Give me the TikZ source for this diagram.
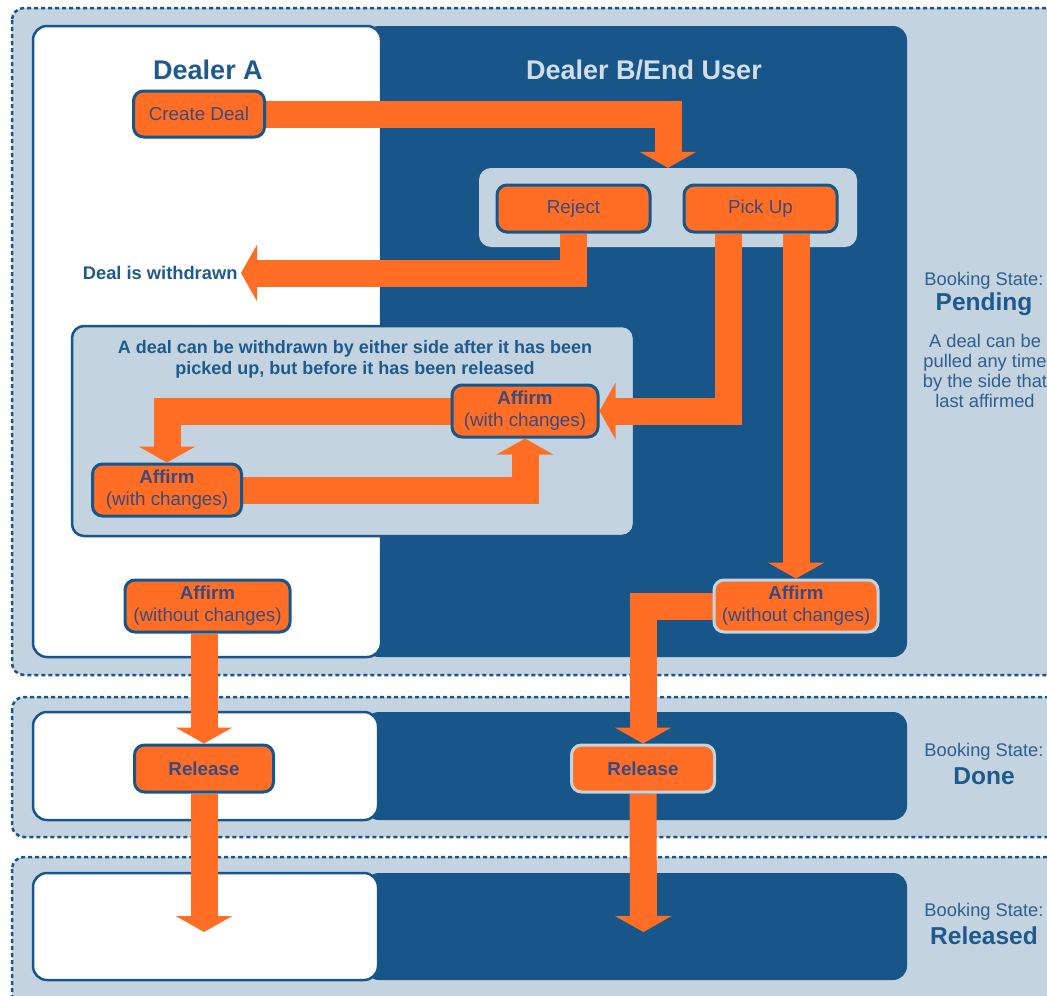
\documentclass[tikz,border=0pt]{standalone}
\usepackage{fontspec}
\setmainfont{Liberation Sans}
\usetikzlibrary{arrows.meta,calc}
\definecolor{panelc}{HTML}{C3D3E0}
\definecolor{darkb}{HTML}{18568A}
\definecolor{orng}{HTML}{FF6E24}
\definecolor{otext}{HTML}{3A4A7E}
\definecolor{ttext}{HTML}{1F5A8E}
\definecolor{stext}{HTML}{2E5F8F}
\definecolor{ltitle}{HTML}{D3DDE8}
\pgfdeclarelayer{background}
\pgfdeclarelayer{middle}
\pgfsetlayers{background,middle,main}
\tikzset{
  panel/.style={fill=panelc, draw=darkb, line width=2.5pt, dash pattern=on 4pt off 3pt, rounded corners=12pt},
  whitelane/.style={fill=white, draw=darkb, line width=2.5pt, rounded corners=14pt},
  darklane/.style={fill=darkb, rounded corners=14pt},
  greybox/.style={fill=panelc, draw=none, rounded corners=12pt, inner sep=0pt},
  descbox/.style={fill=panelc, draw=darkb, line width=2.5pt, rounded corners=12pt, inner sep=0pt},
  obox/.style={fill=orng, draw=darkb, line width=3pt, rounded corners=10pt, inner sep=0pt,
     text=otext, align=center, font=\fontsize{18.8}{22}\selectfont},
  oboxl/.style={obox, draw=panelc},
  flow/.style={draw=orng, line width=27pt, line join=miter, -{Triangle[width=56pt,length=16pt]}},
  title/.style={font=\fontsize{27}{30}\selectfont\bfseries},
  bstate/.style={text=stext, font=\fontsize{18.3}{20}\selectfont, align=center},
  bname/.style={text=ttext, font=\fontsize{24.5}{26}\selectfont\bfseries},
}
\begin{document}
\begin{tikzpicture}[x=1pt,y=-1pt]
\useasboundingbox (0,0) rectangle (1047,996);
\begin{pgfonlayer}{background}
  % panels
  \draw[panel] (12,8) rectangle (1080,675);
  \draw[panel] (12,697) rectangle (1080,837);
  \draw[panel] (12,857) rectangle (1080,1010);
  % lanes panel 1
  \fill[darklane] (365,26) rectangle (907,657);
  \draw[whitelane] (33,26) rectangle (381,657);
  % lanes panel 2
  \fill[darklane] (365,712) rectangle (907,820);
  \draw[whitelane] (33,712) rectangle (378,820);
  % lanes panel 3
  \fill[darklane] (365,873) rectangle (907,980);
  \draw[whitelane] (33,873) rectangle (378,980);
  % grey group boxes
  \node[greybox, minimum width=378pt, minimum height=79pt] (group) at (668,207.5) {};
  \node[descbox, minimum width=562pt, minimum height=210pt] (descb) at (353,431) {};
\end{pgfonlayer}

% titles
\node[title, text=ttext] (dA) at (208,70) {Dealer A};
\node[title, text=ltitle] (dB) at (644,70) {Dealer B/End User};

% description
\node[text=ttext, align=center, font=\fontsize{18}{21}\selectfont\bfseries] (desc) at (355,359)
  {A deal can be withdrawn by either side after it has been\\picked up, but before it has been released};

\node[text=ttext, anchor=east, font=\fontsize{18.3}{20}\selectfont\bfseries] (withdrawn) at (241,273) {Deal is withdrawn};

% process boxes
\node[obox, minimum width=131pt, minimum height=46pt] (create) at (199,114) {Create Deal};
\node[obox, minimum width=153pt, minimum height=47pt] (reject) at (573.5,208.5) {Reject};
\node[obox, minimum width=153pt, minimum height=47pt] (pickup) at (760.5,208.5) {Pick Up};
\node[obox, minimum width=146pt, minimum height=52pt] (affR) at (525,411) {\textbf{Affirm}\\(with changes)};
\node[obox, minimum width=149pt, minimum height=52pt] (affL) at (167,490) {\textbf{Affirm}\\(with changes)};
\node[obox, minimum width=165pt, minimum height=52pt] (affWL) at (207.5,606) {\textbf{Affirm}\\(without changes)};
\node[oboxl, minimum width=164pt, minimum height=52pt] (affWR) at (796,606) {\textbf{Affirm}\\(without changes)};
\node[obox, minimum width=139pt, minimum height=47pt] (relL) at (204,768.5) {\textbf{Release}};
\node[oboxl, minimum width=143pt, minimum height=47pt] (relR) at (643,768.5) {\textbf{Release}};

\coordinate (endL) at (204,932);
\coordinate (endR) at (643.5,932);

% booking states
\node[bstate] (bs1) at (984,281) {Booking State:};
\node[bname] (bn1) at (984,304) {Pending};
\node[bstate] (bn1d) at (985,371) {A deal can be\\pulled any time\\by the side that\\last affirmed};
\node[bstate] (bs2) at (984,752) {Booking State:};
\node[bname] (bn2) at (984,776) {Done};
\node[bstate] (bs3) at (984,912) {Booking State:};
\node[bname] (bn3) at (984,936) {Released};

\begin{pgfonlayer}{middle}
  \draw[flow] (create.east) -| (group.north);
  \draw[flow] (reject.south) |- (withdrawn.east);
  \draw[flow] ([xshift=-32pt]pickup.south) |- (affR.east);
  \draw[flow] (affWR.north |- pickup.south) -- (affWR.north);
  \draw[flow] (affR.west) -| (affL.north);
  \draw[flow] (affL.east) -| (affR.south);
  \draw[flow] (relL.north |- affWL.south) -- (relL.north);
  \draw[flow] (relL.south) -- (endL);
  \draw[flow] (affWR.west) -| (relR.north);
  \draw[flow] (relR.south) -- (endR);
\end{pgfonlayer}
\end{tikzpicture}
\end{document}
